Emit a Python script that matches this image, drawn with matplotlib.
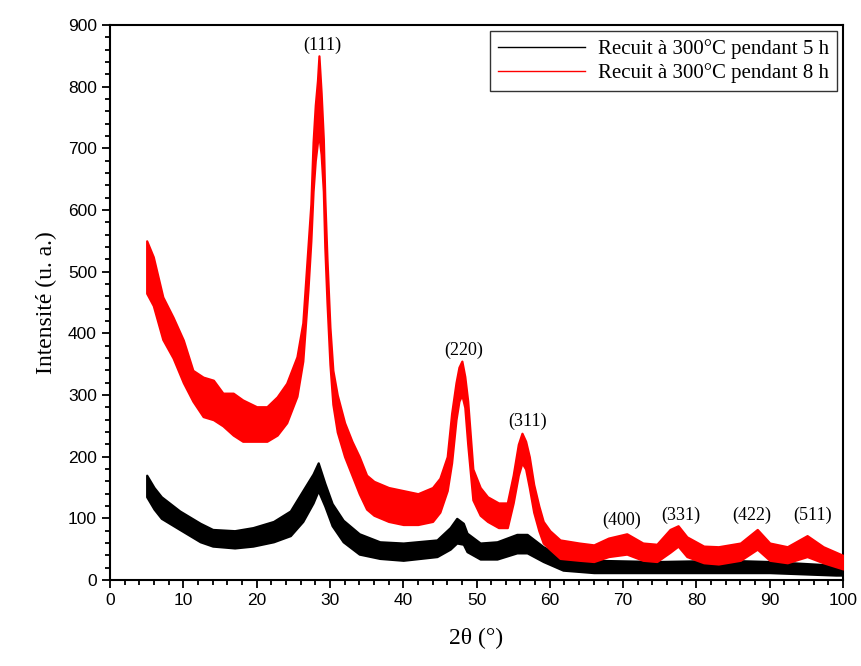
"""XRD patterns of films annealed at 300 C for 5 h and 8 h."""
import matplotlib
matplotlib.use("Agg")
import matplotlib.pyplot as plt
from matplotlib.ticker import MultipleLocator

# 2theta sample points and intensity envelopes (low / high edge of the noisy trace)
tt_8h = [5, 5.9, 7.2, 8.6, 10, 11.3, 12.7, 14.1, 15.4, 16.8, 18.1, 20, 21.4, 22.8, 24.1,
         25.5, 26.3, 27, 27.4, 27.7, 28, 28.3, 28.5, 28.8, 29.1, 29.3, 29.6, 30, 30.4,
         31, 32, 33, 34, 35, 36, 38, 40, 42, 44, 45, 46, 46.6, 47.2, 47.6, 48, 48.4,
         48.8, 49.5, 50.5, 51.5, 53, 54.2, 55, 55.7, 56.2, 56.7, 57.2, 57.8, 58.5, 59.1,
         60, 61.4, 64, 66, 68, 70.5, 72.7, 74.6, 76.4, 77.5, 78.7, 81, 83, 86, 88.3, 90,
         92.4, 95.1, 97.3, 100]
lo_8h = [465, 445, 390, 360, 320, 290, 265, 260, 250, 235, 225, 225, 225, 235, 255,
         298, 355, 470, 550, 630, 680, 710, 720, 690, 630, 540, 450, 350, 285,
         240, 200, 170, 140, 115, 105, 95, 90, 90, 95, 110, 145, 190, 260, 290, 300, 280,
         220, 130, 105, 95, 85, 85, 125, 170, 190, 180, 150, 110, 80, 60,
         50, 35, 32, 30, 38, 42, 32, 30, 45, 55, 38, 28, 26, 32, 50, 32,
         28, 38, 28, 18]
hi_8h = [550, 524, 459, 426, 389, 340, 329, 324, 303, 303, 292, 281, 281, 297, 319,
         362, 417, 540, 610, 710, 770, 810, 850, 790, 715, 620, 520, 410, 340,
         300, 255, 225, 200, 170, 160, 150, 145, 140, 150, 165, 200, 270, 320, 345, 355, 330,
         290, 180, 150, 135, 125, 125, 170, 220, 238, 225, 200, 155, 120, 95,
         80, 65, 60, 57, 68, 75, 60, 58, 82, 88, 70, 55, 54, 60, 82, 60,
         54, 72, 54, 40]

tt_5h = [5, 6, 7, 9.5, 12.3, 14, 17, 19.5, 22.3, 24.6, 26.3, 27.7, 28.4, 29.3, 30.3,
         31.8, 34, 36.8, 40, 44.6, 46.4, 47.3, 48.2, 48.7, 50.5, 52.8, 55.5, 56.9, 59.1,
         61.8, 66, 74.6, 84, 90, 99, 100]
lo_5h = [135, 115, 100, 82, 62, 55, 52, 55, 62, 72, 95, 125, 145, 120, 88,
         62, 42, 35, 32, 38, 50, 60, 58, 46, 34, 34, 44, 44, 30,
         16, 12, 12, 12, 12, 8, 8]
hi_5h = [170, 150, 135, 112, 92, 82, 80, 85, 95, 112, 145, 172, 190, 157, 124,
         97, 75, 62, 60, 65, 85, 100, 92, 76, 60, 62, 74, 74, 54,
         38, 32, 30, 32, 30, 24, 22]

# Miller index labels and where they sit (2theta, intensity)
hkl = ["(111)", "(220)", "(311)", "(400)", "(331)", "(422)", "(511)"]
hkl_tt = [28.9, 48.2, 56.9, 69.8, 77.9, 87.6, 95.8]
hkl_I = [867, 373, 258, 96, 105, 105, 105]

fig = plt.figure(figsize=(8.61, 6.66), dpi=100)
ax = fig.add_axes([0.1278, 0.1291, 0.8513, 0.8334])

ax.fill_between(tt_5h, lo_5h, hi_5h, color="black", lw=1.6, zorder=2)
ax.fill_between(tt_8h, lo_8h, hi_8h, color="red", lw=1.6, zorder=3)
# legend proxies
ax.plot([], [], color="black", lw=1, label="Recuit à 300°C pendant 5 h")
ax.plot([], [], color="red", lw=1, label="Recuit à 300°C pendant 8 h")

for lab, x, y in zip(hkl, hkl_tt, hkl_I):
    ax.text(x, y, lab, ha="center", va="center", family="Liberation Serif", fontsize=13)

ax.set_xlim(0, 100)
ax.set_ylim(0, 900)
ax.xaxis.set_major_locator(MultipleLocator(10))
ax.xaxis.set_minor_locator(MultipleLocator(2))
ax.yaxis.set_major_locator(MultipleLocator(100))
ax.yaxis.set_minor_locator(MultipleLocator(20))
ax.tick_params(which="both", direction="out", width=1.3, top=False, right=False)
ax.tick_params(which="major", length=6, labelsize=12.5)
ax.tick_params(which="minor", length=3.5)
for lab in ax.get_xticklabels() + ax.get_yticklabels():
    lab.set_family("Liberation Sans")
for sp in ax.spines.values():
    sp.set_linewidth(1.5)

ax.set_xlabel("2θ (°)", family="Liberation Serif", fontsize=17, labelpad=14)
ax.set_ylabel("Intensité (u. a.)", family="Liberation Serif", fontsize=17, labelpad=8)

leg = ax.legend(loc="upper right", bbox_to_anchor=(0.998, 0.997), handlelength=4.2,
                prop={"family": "Liberation Serif", "size": 15}, frameon=True,
                fancybox=False, borderpad=0.4, labelspacing=0.2, handletextpad=0.6,
                borderaxespad=0.2)
leg.get_frame().set_edgecolor("black")
leg.get_frame().set_linewidth(1.0)

fig.savefig("out.png", dpi=100)
